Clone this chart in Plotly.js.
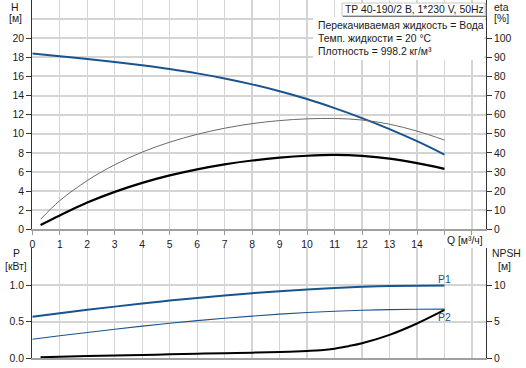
<!DOCTYPE html>
<html>
<head>
<meta charset="utf-8">
<script src="https://cdn.plot.ly/plotly-3.0.1.min.js"></script>
<style>
html,body{margin:0;padding:0;background:#fff;}
#chart{width:526px;height:368px;}
</style>
</head>
<body>
<div id="chart"></div>
<script>
// ---- data ----
var qH = [0, 1, 2, 3, 4, 5, 6, 7, 8, 9, 10, 11, 12, 13, 14, 15];
var head = [18.4, 18.12, 17.83, 17.51, 17.16, 16.77, 16.32, 15.79, 15.17, 14.45, 13.63, 12.68, 11.64, 10.49, 9.22, 7.82];

var qEta = [0.3, 1, 2, 3, 4, 5, 6, 7, 8, 9, 10, 11, 12, 13, 14, 15];
var etaPump = [5.25, 15, 25.5, 33.8, 40.4, 45.6, 49.7, 52.9, 55.3, 56.9, 57.8, 58.0, 57.2, 55.0, 51.4, 46.7];
var etaTotal = [2.25, 7.25, 14, 19.6, 24.3, 28.2, 31.4, 34.0, 36.0, 37.5, 38.5, 38.9, 38.4, 37.0, 34.6, 31.6];

var qP = [0, 1, 2, 3, 4, 5, 6, 7, 8, 9, 10, 11, 12, 13, 14, 15];
var p1 = [0.567, 0.615, 0.661, 0.705, 0.747, 0.787, 0.824, 0.858, 0.889, 0.916, 0.94, 0.96, 0.975, 0.985, 0.99, 0.992];
var p2 = [0.259, 0.307, 0.353, 0.397, 0.439, 0.478, 0.514, 0.547, 0.576, 0.602, 0.624, 0.642, 0.655, 0.664, 0.669, 0.671];

var qN = [0.3, 1, 2, 3, 4, 5, 6, 7, 8, 9, 10, 10.5, 11, 11.5, 12, 13, 14, 15];
var npsh = [0.15, 0.22, 0.3, 0.38, 0.46, 0.54, 0.62, 0.7, 0.77, 0.86, 1.0, 1.1, 1.3, 1.65, 2.05, 3.2, 4.75, 6.6];

var xTicks = [0,1,2,3,4,5,6,7,8,9,10,11,12,13,14,15,16];
var xTickText = ['0','1','2','3','4','5','6','7','8','9','10','11','12','13','14','',''];
var hTicks = [0,2,4,6,8,10,12,14,16,18,20];
var etaTicks = [0,10,20,30,40,50,60,70,80,90,100];
var pTicks = [0, 0.5, 1.0];
var pTickText = ['0.0','0.5','1.0'];
var nTicks = [0, 5, 10];

// ---- layout helpers ----
var W = 526, H = 368;
function px(x){ return x / W; }
function py(y){ return 1 - y / H; }
var FONT = '"Liberation Sans", Arial, sans-serif';
var FS = 10.4;
var TXT = '#1a1a1a';
var GRID = '#d4d4d4';
var BLUE = '#18548e';
var xDom = [px(32.3), px(485.7)];

var traces = [
  {x: qEta, y: etaPump, xaxis: 'x', yaxis: 'y2', mode: 'lines', line: {color: '#6a6a6a', width: 1, shape: 'spline'}, hoverinfo: 'skip'},
  {x: qEta, y: etaTotal, xaxis: 'x', yaxis: 'y2', mode: 'lines', line: {color: '#000', width: 2.2, shape: 'spline'}, hoverinfo: 'skip'},
  {x: qH, y: head, xaxis: 'x', yaxis: 'y', mode: 'lines', line: {color: BLUE, width: 2, shape: 'spline'}, hoverinfo: 'skip'},
  {x: qP, y: p1, xaxis: 'x2', yaxis: 'y3', mode: 'lines', line: {color: BLUE, width: 2, shape: 'spline'}, hoverinfo: 'skip'},
  {x: qP, y: p2, xaxis: 'x2', yaxis: 'y3', mode: 'lines', line: {color: BLUE, width: 1.1, shape: 'spline'}, hoverinfo: 'skip'},
  {x: qN, y: npsh, xaxis: 'x2', yaxis: 'y4', mode: 'lines', line: {color: '#000', width: 2, shape: 'spline'}, hoverinfo: 'skip'}
];

var tickFont = {family: FONT, size: FS, color: TXT};

function ann(text, x, y, opts){
  var a = {text: text, x: px(x), y: py(y), xref: 'paper', yref: 'paper', showarrow: false,
           xanchor: 'center', yanchor: 'middle', font: {family: FONT, size: FS, color: TXT}};
  for (var k in (opts||{})) a[k] = opts[k];
  return a;
}

var layout = {
  width: W, height: H,
  margin: {l: 0, r: 0, t: 0, b: 0},
  paper_bgcolor: '#fff', plot_bgcolor: '#fff',
  showlegend: false,
  font: {family: FONT, size: FS, color: TXT},
  xaxis: {domain: xDom, range: [0, 16.5], anchor: 'y', tickvals: xTicks, ticktext: xTickText,
          ticks: 'outside', ticklen: 4, tickcolor: '#999', tickfont: tickFont,
          showline: true, linecolor: '#a0a0a0', linewidth: 2, showgrid: true, gridcolor: GRID, gridwidth: 1.3,
          zeroline: false, fixedrange: true},
  yaxis: {domain: [py(229.3), 1], range: [0, 24], anchor: 'x', tickvals: hTicks,
          ticks: 'outside', ticklen: 5, tickcolor: '#333', tickfont: tickFont,
          showline: true, linecolor: '#333', linewidth: 1.2, showgrid: true, gridcolor: GRID, gridwidth: 2,
          minor: {dtick: 2, tick0: 0, showgrid: true, gridcolor: GRID, gridwidth: 2, ticks: ''},
          zeroline: false, fixedrange: true},
  yaxis2: {overlaying: 'y', side: 'right', anchor: 'x', range: [0, 120], tickvals: etaTicks,
           ticks: 'outside', ticklen: 5, tickcolor: '#333', tickfont: tickFont,
           showline: true, linecolor: '#333', linewidth: 1.2, showgrid: false, zeroline: false, fixedrange: true},
  xaxis2: {domain: xDom, range: [0, 16.5], anchor: 'y3', tickvals: xTicks, showticklabels: false, ticks: '',
           showline: true, linecolor: '#a0a0a0', linewidth: 2, showgrid: true, gridcolor: GRID, gridwidth: 1.3,
           zeroline: false, fixedrange: true},
  yaxis3: {domain: [py(358.3), py(248.35)], range: [0, 1.5], anchor: 'x2', tickvals: pTicks, ticktext: pTickText,
           ticks: 'outside', ticklen: 5, tickcolor: '#333', tickfont: tickFont,
           showline: true, linecolor: '#333', linewidth: 1.2, showgrid: true, gridcolor: GRID, gridwidth: 2,
           minor: {dtick: 0.5, tick0: 0, showgrid: true, gridcolor: GRID, gridwidth: 2, ticks: ''},
           zeroline: false, fixedrange: true},
  yaxis4: {overlaying: 'y3', side: 'right', anchor: 'x2', range: [0, 15], tickvals: nTicks,
           ticks: 'outside', ticklen: 5, tickcolor: '#333', tickfont: tickFont,
           showline: true, linecolor: '#333', linewidth: 1.2, showgrid: false, zeroline: false, fixedrange: true},
  shapes: [
    {type: 'rect', xref: 'paper', yref: 'paper', x0: px(313), x1: px(484.5), y0: py(60), y1: py(17),
     fillcolor: '#fff', line: {width: 0}, layer: 'above'},
    {type: 'rect', xref: 'paper', yref: 'paper', x0: px(343), x1: px(486), y0: py(16.5), y1: py(4),
     fillcolor: '#fff', line: {color: '#7a7a7a', width: 1}, layer: 'above'},
    {type: 'rect', xref: 'paper', yref: 'paper', x0: px(342), x1: px(485), y0: py(15.5), y1: py(3),
     fillcolor: '#fff', line: {color: '#c8c8c8', width: 1}, layer: 'above'}
  ],
  annotations: [
    ann('H', 15, 7), ann('[м]', 15, 19),
    ann('eta', 501, 7), ann('[%]', 501, 19),
    ann('P', 16, 254), ann('[кВт]', 16, 266),
    ann('NPSH', 506, 254), ann('[м]', 504, 266),
    ann('Q [м³/ч]', 445, 240, {xanchor: 'left'}),
    ann('TP 40-190/2 B, 1*230 V, 50Hz', 414, 9.5, {xanchor: 'center'}),
    ann('Перекачиваемая жидкость = Вода', 316, 26, {xanchor: 'left'}),
    ann('Темп. жидкости = 20 °C', 316, 39, {xanchor: 'left'}),
    ann('Плотность = 998.2 кг/м³', 316, 51.5, {xanchor: 'left'}),
    {text: 'P1', x: 15, y: p1[p1.length-1], xref: 'x2', yref: 'y3', showarrow: false, xanchor: 'center', yanchor: 'bottom',
     yshift: -1, font: {family: FONT, size: FS, color: BLUE}},
    {text: 'P2', x: 15, y: p2[p2.length-1], xref: 'x2', yref: 'y3', showarrow: false, xanchor: 'center', yanchor: 'top',
     yshift: -1, font: {family: FONT, size: FS, color: BLUE}}
  ]
};

Plotly.newPlot('chart', traces, layout, {staticPlot: true, displayModeBar: false});
</script>
</body>
</html>
